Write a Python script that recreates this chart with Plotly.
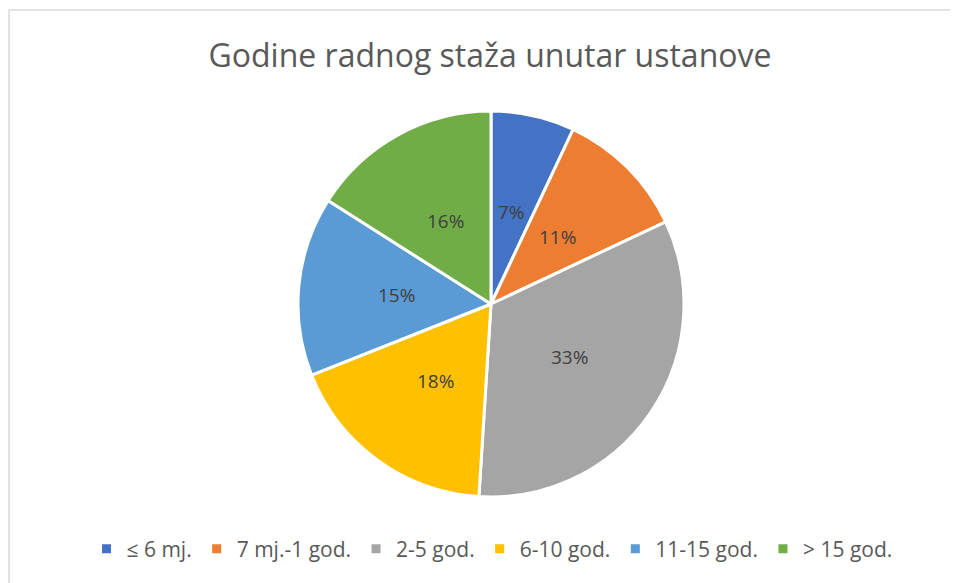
import math
import plotly.graph_objects as go

categories = ["≤ 6 mj.", "7 mj.-1 god.", "2-5 god.", "6-10 god.", "11-15 god.", "> 15 god."]
values = [7, 11, 33, 18, 15, 16]
colors = ["#4472C4", "#ED7D31", "#A5A5A5", "#FFC000", "#5B9BD5", "#70AD47"]

W, H = 958, 583
OFF = 8  # page body margin offset
font = "'Open Sans', Carlito, Calibri, sans-serif"

cx, cy, r = 491 - OFF, 304 - OFF, 193
dom_x = [(cx - r) / W, (cx + r) / W]
dom_y = [1 - (cy + r) / H, 1 - (cy - r) / H]

fig = go.Figure(go.Pie(
    labels=categories,
    values=values,
    sort=False,
    direction="clockwise",
    rotation=0,
    marker=dict(colors=colors, line=dict(color="white", width=3)),
    textinfo="none",
    domain=dict(x=dom_x, y=dom_y),
    hoverinfo="label+percent",
))

# data labels placed along each slice's bisector, derived from the values
total = sum(values)
annotations = []
cum = 0
for v in values:
    mid = (cum + v / 2) / total * 2 * math.pi
    cum += v
    d = 0.49 * r
    px = cx + d * math.sin(mid)
    py = cy - d * math.cos(mid)
    annotations.append(dict(
        x=px / W, y=1 - py / H, xref="paper", yref="paper",
        text=f"{round(v / total * 100)}%", showarrow=False,
        xanchor="center", yanchor="middle",
        font=dict(family=font, size=19, color="#404040"),
    ))

fig.update_layout(
    width=W, height=H,
    margin=dict(l=0, r=0, t=0, b=0),
    paper_bgcolor="white",
    title=dict(text="Godine radnog staža unutar ustanove", x=(490 - OFF) / W, xanchor="center",
               y=1 - (56 - OFF) / H, yanchor="middle",
               font=dict(family=font, size=32, color="#595959")),
    legend=dict(orientation="h", x=(492 - OFF) / W, xanchor="center", y=1 - (549 - OFF) / H,
                yanchor="middle",
                font=dict(family=font, size=21, color="#595959"), traceorder="normal"),
    annotations=annotations,
    shapes=[
        dict(type="line", xref="paper", yref="paper", x0=(9 - OFF) / W, x1=1.02, y0=1 - (10 - OFF) / H,
             y1=1 - (10 - OFF) / H, line=dict(color="#D9D9D9", width=1.5)),
        dict(type="line", xref="paper", yref="paper", x0=(9 - OFF) / W, x1=(9 - OFF) / W,
             y0=1 - (10 - OFF) / H, y1=0, line=dict(color="#D9D9D9", width=1.5)),
    ],
)

fig.write_html("out.html")
